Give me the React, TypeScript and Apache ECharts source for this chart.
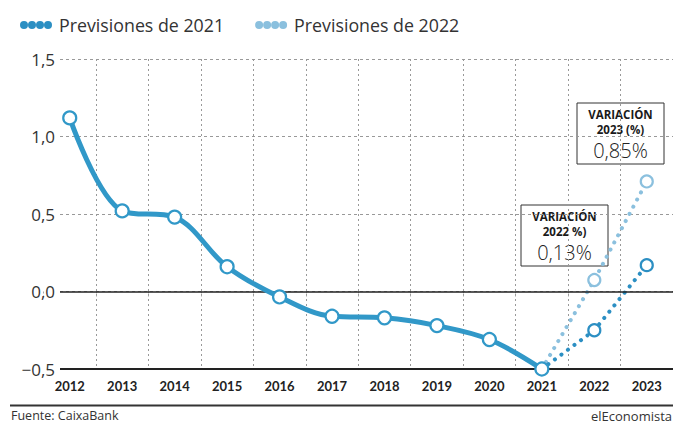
import React, { useEffect, useRef } from "react";
import * as echarts from "echarts";

const years = ["2012", "2013", "2014", "2015", "2016", "2017", "2018", "2019", "2020", "2021", "2022", "2023"];
const historico = [1.12, 0.52, 0.48, 0.16, -0.035, -0.16, -0.17, -0.22, -0.31, -0.5, null, null];
const prev2021 = [null, null, null, null, null, null, null, null, null, -0.5, -0.25, 0.17];
const prev2022 = [null, null, null, null, null, null, null, null, null, -0.5, 0.074, 0.71];
const yTicks = [-0.5, 0, 0.5, 1.0, 1.5];
const notes = [
  { title: "VARIACIÓN", sub: "2023 (%)", value: "0,85%" },
  { title: "VARIACIÓN", sub: "2022 %)", value: "0,13%" },
];

const FONT = "'Open Sans', Lato, sans-serif";
const FONT_B = "Lato, 'Open Sans', sans-serif";
const C_MAIN = "#3198c8";
const C_P21 = "#2c8fc3";
const C_P22 = "#8bc0de";

const dotsIcon =
  "path://M0,3A3,3,0,1,1,6,3A3,3,0,1,1,0,3Z M8,3A3,3,0,1,1,14,3A3,3,0,1,1,8,3Z M16,3A3,3,0,1,1,22,3A3,3,0,1,1,16,3Z M24,3A3,3,0,1,1,30,3A3,3,0,1,1,24,3Z";

function toData(arr: (number | null)[], firstNoSymbol: boolean) {
  return arr.map((v, i) => {
    if (v === null) return "-";
    if (firstNoSymbol && i === 9) return { value: v, symbol: "none" };
    return v;
  });
}

function noteBox(x: number, y: number, n: { title: string; sub: string; value: string }) {
  const w = 87;
  const h = 61;
  const cx = x + w / 2;
  const tStyle = { align: "center", verticalAlign: "middle", fill: "#1a1a1a", fontSize: 11.5, fontWeight: "bold", fontFamily: FONT };
  return {
    type: "group",
    children: [
      { type: "rect", shape: { x, y, width: w, height: h }, style: { fill: "#fff", stroke: "#333", lineWidth: 1 } },
      { type: "text", x: cx, y: y + 11.5, style: { ...tStyle, text: n.title } },
      { type: "text", x: cx, y: y + 26, style: { ...tStyle, text: n.sub } },
      { type: "text", x: cx, y: y + 47, style: { text: n.value, align: "center", verticalAlign: "middle", fill: "#222", fontSize: 20, fontWeight: 300, fontFamily: FONT } },
    ],
  };
}

export default function App() {
  const ref = useRef<HTMLDivElement>(null);
  useEffect(() => {
    if (!ref.current) return;
    const chart = echarts.init(ref.current, undefined, { renderer: "svg" });
    const option: any = {
      animation: false,
      backgroundColor: "#fff",
      textStyle: { fontFamily: FONT },
      legend: {
        left: 15,
        top: 11,
        itemWidth: 30,
        itemHeight: 6,
        itemGap: 31,
        textStyle: { fontSize: 17.8, color: "#333", fontFamily: FONT, padding: [0, 0, 0, 3] },
        data: [
          { name: "Previsiones de 2021", icon: dotsIcon, itemStyle: { color: C_P21 } },
          { name: "Previsiones de 2022", icon: dotsIcon, itemStyle: { color: C_P22 } },
        ],
      },
      grid: [
        { left: 43.5, width: 642, top: 59, height: 310 },
        { left: 60, right: 0, top: 59, height: 310 },
      ],
      xAxis: [
        {
          type: "category",
          gridIndex: 0,
          data: years,
          boundaryGap: true,
          axisLine: { show: false },
          axisTick: { show: true, interval: 0, length: 5, lineStyle: { color: "#aaa", type: [2, 2] } },
          axisLabel: { interval: 0, margin: 10, fontSize: 13, fontWeight: "bold", color: "#222", fontFamily: FONT_B },
          splitLine: { show: true, interval: 0, showMinLine: false, showMaxLine: false, lineStyle: { color: "#999", type: [2, 3], width: 1 } },
        },
        {
          type: "value",
          gridIndex: 1,
          min: 0,
          max: 1,
          show: true,
          axisLine: { show: false },
          axisTick: { show: false },
          axisLabel: { show: false },
          splitLine: { show: false },
        },
      ],
      yAxis: [
        { type: "value", gridIndex: 0, min: -0.5, max: 1.5, interval: 0.5, show: false },
        {
          type: "value",
          gridIndex: 1,
          min: -0.5,
          max: 1.5,
          interval: 0.5,
          axisLine: { show: false },
          axisTick: { show: false },
          axisLabel: {
            margin: 5,
            fontSize: 17,
            color: "#333",
            fontFamily: FONT,
            formatter: (v: number) => {
              const t = yTicks.find((k) => Math.abs(k - v) < 1e-9);
              const val = t === undefined ? v : t;
              const s = Math.abs(val).toFixed(1).replace(".", ",");
              return val < 0 ? "\u2212" + s : s;
            },
          },
          splitLine: { show: true, showMinLine: false, lineStyle: { color: "#999", type: [3, 3], width: 1 } },
        },
      ],
      series: [
        {
          name: "ejes",
          type: "line",
          xAxisIndex: 1,
          yAxisIndex: 1,
          data: [],
          silent: true,
          markLine: {
            silent: true,
            symbol: "none",
            label: { show: false },
            data: [
              { yAxis: 0, lineStyle: { color: "#222", width: 1.6, type: "solid" } },
              { yAxis: -0.5, lineStyle: { color: "#222", width: 2, type: "solid" } },
            ],
          },
        },
        {
          name: "Previsiones de 2022",
          type: "line",
          data: toData(prev2022, true),
          symbol: "circle",
          symbolSize: 12,
          itemStyle: { color: "#fff", borderColor: C_P22, borderWidth: 2.2 },
          lineStyle: { color: C_P22, width: 4, type: [0.1, 8], cap: "round" },
          z: 3,
        },
        {
          name: "Previsiones de 2021",
          type: "line",
          data: toData(prev2021, true),
          symbol: "circle",
          symbolSize: 12,
          itemStyle: { color: "#fff", borderColor: C_P21, borderWidth: 2.2 },
          lineStyle: { color: C_P21, width: 4, type: [0.1, 8], cap: "round" },
          z: 4,
        },
        {
          name: "Histórico",
          type: "line",
          data: toData(historico, false),
          smooth: 0.35,
          symbol: "circle",
          symbolSize: 13,
          itemStyle: { color: "#fff", borderColor: C_MAIN, borderWidth: 2.2 },
          lineStyle: { color: C_MAIN, width: 5 },
          z: 5,
        },
      ],
      graphic: [
        noteBox(577, 103, notes[0]),
        noteBox(521, 205, notes[1]),
        { type: "line", shape: { x1: 10, y1: 405.5, x2: 673, y2: 405.5 }, style: { stroke: "#333", lineWidth: 2 } },
        { type: "text", x: 11, y: 415.5, style: { text: "Fuente: CaixaBank", verticalAlign: "middle", fill: "#333", fontSize: 12.5, fontFamily: FONT } },
        { type: "text", x: 672, y: 415.5, style: { text: "elEconomista", align: "right", verticalAlign: "middle", fill: "#333", fontSize: 13, fontFamily: FONT } },
      ],
    };
    chart.setOption(option);
    return () => chart.dispose();
  }, []);
  return <div ref={ref} style={{ position: "absolute", left: 0, top: 0, width: 673, height: 423 }} />;
}
